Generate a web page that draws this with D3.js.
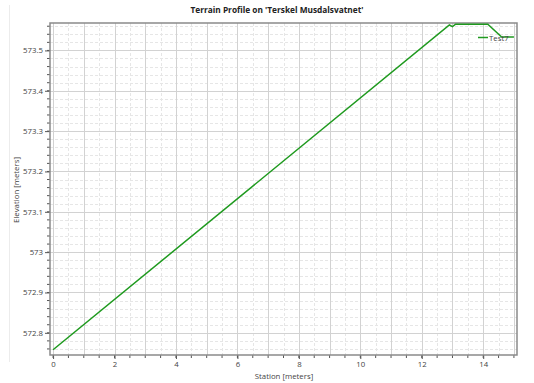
<!DOCTYPE html>
<html>
<head>
<meta charset="utf-8">
<script src="https://cdn.jsdelivr.net/npm/d3@7"></script>
<style>
  html, body { margin: 0; padding: 0; background: #fff; }
  svg { display: block; font-family: "Open Sans", "Noto Sans", sans-serif; }
</style>
</head>
<body>
<svg id="chart" width="534" height="383"></svg>
<script>
// Terrain profile: station along the section vs. ground elevation
const stations   = [0, 12.9, 13.0, 13.1, 14.15, 14.6, 15.0];
const elevations = [572.758, 573.563, 573.559, 573.565, 573.565, 573.533, 573.533];
const seriesName = "Test7";
const xTickLabels = [0, 2, 4, 6, 8, 10, 12, 14];
const yTickLabels = [572.8, 572.9, 573, 573.1, 573.2, 573.3, 573.4, 573.5];

const svg = d3.select("#chart");
const frame = { left: 50, right: 517, top: 23, bottom: 355 };
const fontSize = 7.8;

const x = d3.scaleLinear().domain([-0.1, 15.1]).range([frame.left, frame.right]);
const y = d3.scaleLinear().domain([572.745, 573.568]).range([frame.bottom, frame.top]);

// faint page border at left
svg.append("line")
  .attr("x1", 9.5).attr("x2", 9.5).attr("y1", 5).attr("y2", 362)
  .attr("stroke", "#ececec").attr("stroke-width", 1);

// title
svg.append("text")
  .attr("x", 277).attr("y", 13)
  .attr("text-anchor", "middle")
  .attr("font-size", 8.3).attr("font-weight", "bold").attr("fill", "#222")
  .text("Terrain Profile on 'Terskel Musdalsvatnet'");

const plot = svg.append("g");

// minor grid
const xMinor = d3.range(0, 15.01, 0.5).filter(v => v % 1 !== 0);
const yMinor = d3.range(572.76, 573.561, 0.02).map(v => +v.toFixed(2))
  .filter(v => Math.abs(v * 10 - Math.round(v * 10)) > 1e-6);

plot.append("g").selectAll("line").data(xMinor).join("line")
  .attr("x1", d => Math.round(x(d)) + 0.5).attr("x2", d => Math.round(x(d)) + 0.5)
  .attr("y1", frame.top).attr("y2", frame.bottom)
  .attr("stroke", "#e6e6e6").attr("stroke-dasharray", "3,2");
plot.append("g").selectAll("line").data(yMinor).join("line")
  .attr("y1", d => Math.round(y(d)) + 0.5).attr("y2", d => Math.round(y(d)) + 0.5)
  .attr("x1", frame.left).attr("x2", frame.right)
  .attr("stroke", "#e6e6e6").attr("stroke-dasharray", "3,2");

// major grid
const xMajor = d3.range(0, 15.01, 1);
plot.append("g").selectAll("line").data(xMajor).join("line")
  .attr("x1", d => Math.round(x(d)) + 0.5).attr("x2", d => Math.round(x(d)) + 0.5)
  .attr("y1", frame.top).attr("y2", frame.bottom)
  .attr("stroke", "#d2d2d2");
plot.append("g").selectAll("line").data(yTickLabels).join("line")
  .attr("y1", d => Math.round(y(d)) + 0.5).attr("y2", d => Math.round(y(d)) + 0.5)
  .attr("x1", frame.left).attr("x2", frame.right)
  .attr("stroke", "#d2d2d2");

// axes
const xAxis = d3.axisBottom(x).tickValues(xTickLabels).tickSize(4).tickPadding(2)
  .tickFormat(d3.format("d"));
const gx = svg.append("g").attr("transform", `translate(0,${frame.bottom})`).call(xAxis);
gx.select(".domain").remove();
gx.selectAll(".tick line").attr("stroke", "#555");
gx.selectAll("text").attr("font-size", fontSize).attr("fill", "#444")
  .attr("font-family", "Open Sans, sans-serif");
svg.append("g").selectAll("line").data(d3.range(0, 15.01, 0.5)).join("line")
  .attr("x1", d => x(d)).attr("x2", d => x(d))
  .attr("y1", frame.bottom).attr("y2", frame.bottom + 3)
  .attr("stroke", "#555");

const yAxis = d3.axisLeft(y).tickValues(yTickLabels).tickSize(5).tickPadding(2)
  .tickFormat(d => d3.format("")(+d.toFixed(1)));
const gy = svg.append("g").attr("transform", `translate(${frame.left},0)`).call(yAxis);
gy.select(".domain").remove();
gy.selectAll(".tick line").attr("stroke", "#555");
gy.selectAll("text").attr("font-size", fontSize).attr("fill", "#444")
  .attr("font-family", "Open Sans, sans-serif");
svg.append("g").selectAll("line").data(d3.range(572.76, 573.561, 0.02)).join("line")
  .attr("y1", d => y(d)).attr("y2", d => y(d))
  .attr("x1", frame.left - 3).attr("x2", frame.left)
  .attr("stroke", "#555");

// frame
svg.append("rect")
  .attr("x", frame.left).attr("y", frame.top)
  .attr("width", frame.right - frame.left).attr("height", frame.bottom - frame.top)
  .attr("fill", "none").attr("stroke", "#8a8a8a").attr("stroke-width", 1.5);

// axis titles
svg.append("text")
  .attr("x", 284).attr("y", 379).attr("text-anchor", "middle")
  .attr("font-size", fontSize).attr("fill", "#444").text("Station [meters]");
svg.append("text")
  .attr("transform", "translate(19,190) rotate(-90)").attr("text-anchor", "middle")
  .attr("font-size", fontSize).attr("fill", "#444").text("Elevation [meters]");

// profile line
const line = d3.line().x((d, i) => x(stations[i])).y(d => y(d));
svg.append("path")
  .attr("d", line(elevations))
  .attr("fill", "none").attr("stroke", "#1f9a1f").attr("stroke-width", 1.5);

// legend
const legend = svg.append("g").attr("transform", "translate(478,37.5)");
legend.append("line").attr("x1", 0).attr("x2", 10).attr("y1", 0).attr("y2", 0)
  .attr("stroke", "#1f9a1f").attr("stroke-width", 1.5);
legend.append("text").attr("x", 11).attr("y", 3)
  .attr("font-size", fontSize).attr("fill", "#444").text(seriesName);
</script>
</body>
</html>
